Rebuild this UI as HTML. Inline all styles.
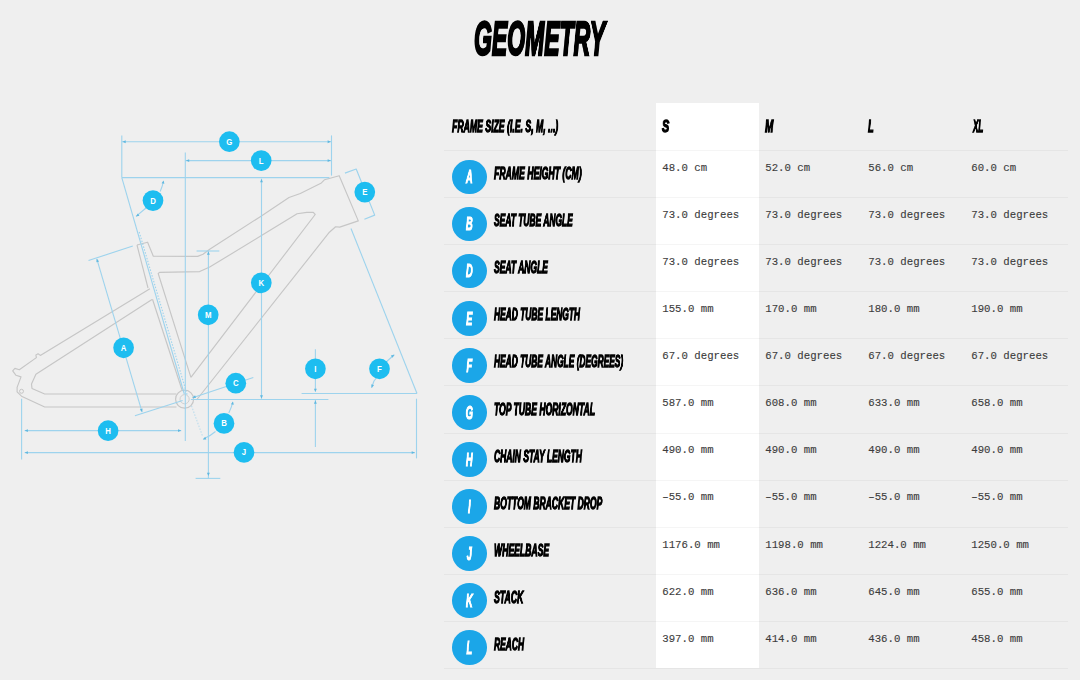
<!DOCTYPE html><html><head><meta charset="utf-8"><style>
*{margin:0;padding:0;box-sizing:border-box}
html,body{width:1080px;height:680px;overflow:hidden;background:#efefef}
body{position:relative;font-family:"Liberation Sans",sans-serif}
.cond{position:absolute;will-change:transform;font-family:"Liberation Sans",sans-serif;font-weight:bold;font-style:italic;color:#000;white-space:nowrap;transform-origin:0 0;line-height:1}
.mono{position:absolute;font-family:"Liberation Mono",monospace;font-size:10.7px;color:#3c3c3c;-webkit-text-stroke:0.12px #3c3c3c;white-space:nowrap;line-height:1}
.line{position:absolute;height:1px;background:rgba(0,0,0,0.04)}
.circ{position:absolute;width:34.6px;height:34.6px;border-radius:50%;background:#1ba6e8}
.scol{position:absolute;left:656px;top:103px;width:103px;height:565px;background:#fff}
</style></head><body>

<div class="scol"></div>
<div class="cond" id="title" style="left:473.92px;top:15.11px;font-size:47.27px;transform:scaleX(0.4862);-webkit-text-stroke:2.6px #000;color:#000">GEOMETRY</div>
<div class="cond" id="hdr" style="left:452.00px;top:118.10px;font-size:17.01px;transform:scaleX(0.5114);-webkit-text-stroke:1.3px #000;color:#000">FRAME SIZE (I.E. S, M, ...)</div>
<div class="cond" id="sz0" style="left:662.43px;top:118.10px;font-size:17.01px;transform:scaleX(0.6444);-webkit-text-stroke:1.3px #000;color:#000">S</div>
<div class="cond" id="sz1" style="left:765.41px;top:118.10px;font-size:17.01px;transform:scaleX(0.5876);-webkit-text-stroke:1.3px #000;color:#000">M</div>
<div class="cond" id="sz2" style="left:868.19px;top:118.10px;font-size:17.01px;transform:scaleX(0.5448);-webkit-text-stroke:1.3px #000;color:#000">L</div>
<div class="cond" id="sz3" style="left:972.52px;top:118.10px;font-size:17.01px;transform:scaleX(0.4703);-webkit-text-stroke:1.3px #000;color:#000">XL</div>
<div class="cond" id="lab0" style="left:493.65px;top:166.15px;font-size:16.61px;transform:scaleX(0.5219);-webkit-text-stroke:1.3px #000;color:#000">FRAME HEIGHT (CM)</div>
<div class="cond" id="lab1" style="left:493.66px;top:213.23px;font-size:16.61px;transform:scaleX(0.5079);-webkit-text-stroke:1.3px #000;color:#000">SEAT TUBE ANGLE</div>
<div class="cond" id="lab2" style="left:493.64px;top:260.31px;font-size:16.61px;transform:scaleX(0.5126);-webkit-text-stroke:1.3px #000;color:#000">SEAT ANGLE</div>
<div class="cond" id="lab3" style="left:493.67px;top:307.39px;font-size:16.61px;transform:scaleX(0.5066);-webkit-text-stroke:1.3px #000;color:#000">HEAD TUBE LENGTH</div>
<div class="cond" id="lab4" style="left:493.68px;top:354.47px;font-size:16.61px;transform:scaleX(0.5048);-webkit-text-stroke:1.3px #000;color:#000">HEAD TUBE ANGLE (DEGREES)</div>
<div class="cond" id="lab5" style="left:493.82px;top:401.55px;font-size:16.61px;transform:scaleX(0.5168);-webkit-text-stroke:1.3px #000;color:#000">TOP TUBE HORIZONTAL</div>
<div class="cond" id="lab6" style="left:493.64px;top:448.63px;font-size:16.61px;transform:scaleX(0.5120);-webkit-text-stroke:1.3px #000;color:#000">CHAIN STAY LENGTH</div>
<div class="cond" id="lab7" style="left:493.66px;top:495.71px;font-size:16.61px;transform:scaleX(0.5154);-webkit-text-stroke:1.3px #000;color:#000">BOTTOM BRACKET DROP</div>
<div class="cond" id="lab8" style="left:493.80px;top:542.79px;font-size:16.61px;transform:scaleX(0.5196);-webkit-text-stroke:1.3px #000;color:#000">WHEELBASE</div>
<div class="cond" id="lab9" style="left:493.64px;top:589.87px;font-size:16.61px;transform:scaleX(0.5244);-webkit-text-stroke:1.3px #000;color:#000">STACK</div>
<div class="cond" id="lab10" style="left:493.68px;top:636.95px;font-size:16.61px;transform:scaleX(0.5095);-webkit-text-stroke:1.3px #000;color:#000">REACH</div>
<div class="line" style="left:444px;top:150.08px;width:624px"></div>
<div class="circ" style="left:452.2px;top:159.68px"></div>
<div class="cond" style="left:452.2px;width:34.6px;text-align:center;transform-origin:50% 0;top:168.29px;font-size:18.90px;color:#fff;-webkit-text-stroke:1.1px #fff;transform:scaleX(0.5)">A</div>
<div class="mono" style="left:662.3px;top:162.88px">48.0 cm</div>
<div class="mono" style="left:765.3px;top:162.88px">52.0 cm</div>
<div class="mono" style="left:868.3px;top:162.88px">56.0 cm</div>
<div class="mono" style="left:971.3px;top:162.88px">60.0 cm</div>
<div class="line" style="left:444px;top:197.16px;width:624px"></div>
<div class="circ" style="left:452.2px;top:206.76px"></div>
<div class="cond" style="left:452.2px;width:34.6px;text-align:center;transform-origin:50% 0;top:215.37px;font-size:18.90px;color:#fff;-webkit-text-stroke:1.1px #fff;transform:scaleX(0.5)">B</div>
<div class="mono" style="left:662.3px;top:209.96px">73.0 degrees</div>
<div class="mono" style="left:765.3px;top:209.96px">73.0 degrees</div>
<div class="mono" style="left:868.3px;top:209.96px">73.0 degrees</div>
<div class="mono" style="left:971.3px;top:209.96px">73.0 degrees</div>
<div class="line" style="left:444px;top:244.24px;width:624px"></div>
<div class="circ" style="left:452.2px;top:253.84px"></div>
<div class="cond" style="left:452.2px;width:34.6px;text-align:center;transform-origin:50% 0;top:262.45px;font-size:18.90px;color:#fff;-webkit-text-stroke:1.1px #fff;transform:scaleX(0.5)">D</div>
<div class="mono" style="left:662.3px;top:257.04px">73.0 degrees</div>
<div class="mono" style="left:765.3px;top:257.04px">73.0 degrees</div>
<div class="mono" style="left:868.3px;top:257.04px">73.0 degrees</div>
<div class="mono" style="left:971.3px;top:257.04px">73.0 degrees</div>
<div class="line" style="left:444px;top:291.32px;width:624px"></div>
<div class="circ" style="left:452.2px;top:300.92px"></div>
<div class="cond" style="left:452.2px;width:34.6px;text-align:center;transform-origin:50% 0;top:309.53px;font-size:18.90px;color:#fff;-webkit-text-stroke:1.1px #fff;transform:scaleX(0.5)">E</div>
<div class="mono" style="left:662.3px;top:304.12px">155.0 mm</div>
<div class="mono" style="left:765.3px;top:304.12px">170.0 mm</div>
<div class="mono" style="left:868.3px;top:304.12px">180.0 mm</div>
<div class="mono" style="left:971.3px;top:304.12px">190.0 mm</div>
<div class="line" style="left:444px;top:338.40px;width:624px"></div>
<div class="circ" style="left:452.2px;top:348.00px"></div>
<div class="cond" style="left:452.2px;width:34.6px;text-align:center;transform-origin:50% 0;top:356.61px;font-size:18.90px;color:#fff;-webkit-text-stroke:1.1px #fff;transform:scaleX(0.5)">F</div>
<div class="mono" style="left:662.3px;top:351.20px">67.0 degrees</div>
<div class="mono" style="left:765.3px;top:351.20px">67.0 degrees</div>
<div class="mono" style="left:868.3px;top:351.20px">67.0 degrees</div>
<div class="mono" style="left:971.3px;top:351.20px">67.0 degrees</div>
<div class="line" style="left:444px;top:385.48px;width:624px"></div>
<div class="circ" style="left:452.2px;top:395.08px"></div>
<div class="cond" style="left:452.2px;width:34.6px;text-align:center;transform-origin:50% 0;top:403.69px;font-size:18.90px;color:#fff;-webkit-text-stroke:1.1px #fff;transform:scaleX(0.5)">G</div>
<div class="mono" style="left:662.3px;top:398.28px">587.0 mm</div>
<div class="mono" style="left:765.3px;top:398.28px">608.0 mm</div>
<div class="mono" style="left:868.3px;top:398.28px">633.0 mm</div>
<div class="mono" style="left:971.3px;top:398.28px">658.0 mm</div>
<div class="line" style="left:444px;top:432.56px;width:624px"></div>
<div class="circ" style="left:452.2px;top:442.16px"></div>
<div class="cond" style="left:452.2px;width:34.6px;text-align:center;transform-origin:50% 0;top:450.77px;font-size:18.90px;color:#fff;-webkit-text-stroke:1.1px #fff;transform:scaleX(0.5)">H</div>
<div class="mono" style="left:662.3px;top:445.36px">490.0 mm</div>
<div class="mono" style="left:765.3px;top:445.36px">490.0 mm</div>
<div class="mono" style="left:868.3px;top:445.36px">490.0 mm</div>
<div class="mono" style="left:971.3px;top:445.36px">490.0 mm</div>
<div class="line" style="left:444px;top:479.64px;width:624px"></div>
<div class="circ" style="left:452.2px;top:489.24px"></div>
<div class="cond" style="left:452.2px;width:34.6px;text-align:center;transform-origin:50% 0;top:497.85px;font-size:18.90px;color:#fff;-webkit-text-stroke:1.1px #fff;transform:scaleX(0.5)">I</div>
<div class="mono" style="left:662.3px;top:492.44px">–55.0 mm</div>
<div class="mono" style="left:765.3px;top:492.44px">–55.0 mm</div>
<div class="mono" style="left:868.3px;top:492.44px">–55.0 mm</div>
<div class="mono" style="left:971.3px;top:492.44px">–55.0 mm</div>
<div class="line" style="left:444px;top:526.72px;width:624px"></div>
<div class="circ" style="left:452.2px;top:536.32px"></div>
<div class="cond" style="left:452.2px;width:34.6px;text-align:center;transform-origin:50% 0;top:544.93px;font-size:18.90px;color:#fff;-webkit-text-stroke:1.1px #fff;transform:scaleX(0.5)">J</div>
<div class="mono" style="left:662.3px;top:539.52px">1176.0 mm</div>
<div class="mono" style="left:765.3px;top:539.52px">1198.0 mm</div>
<div class="mono" style="left:868.3px;top:539.52px">1224.0 mm</div>
<div class="mono" style="left:971.3px;top:539.52px">1250.0 mm</div>
<div class="line" style="left:444px;top:573.80px;width:624px"></div>
<div class="circ" style="left:452.2px;top:583.40px"></div>
<div class="cond" style="left:452.2px;width:34.6px;text-align:center;transform-origin:50% 0;top:592.01px;font-size:18.90px;color:#fff;-webkit-text-stroke:1.1px #fff;transform:scaleX(0.5)">K</div>
<div class="mono" style="left:662.3px;top:586.60px">622.0 mm</div>
<div class="mono" style="left:765.3px;top:586.60px">636.0 mm</div>
<div class="mono" style="left:868.3px;top:586.60px">645.0 mm</div>
<div class="mono" style="left:971.3px;top:586.60px">655.0 mm</div>
<div class="line" style="left:444px;top:620.88px;width:624px"></div>
<div class="circ" style="left:452.2px;top:630.48px"></div>
<div class="cond" style="left:452.2px;width:34.6px;text-align:center;transform-origin:50% 0;top:639.09px;font-size:18.90px;color:#fff;-webkit-text-stroke:1.1px #fff;transform:scaleX(0.5)">L</div>
<div class="mono" style="left:662.3px;top:633.68px">397.0 mm</div>
<div class="mono" style="left:765.3px;top:633.68px">414.0 mm</div>
<div class="mono" style="left:868.3px;top:633.68px">436.0 mm</div>
<div class="mono" style="left:971.3px;top:633.68px">458.0 mm</div>
<div class="line" style="left:444px;top:667.96px;width:624px"></div>
<svg style="position:absolute;left:0;top:0" width="440" height="500" viewBox="0 0 440 500"><path d="M149.9,288.7 L40.3,355.4 L38.1,353.8 L35.9,354.9 L36.4,357.6 L19.3,369.8 L14.9,368.4 L12.7,370.9 L16,375.3 L21,376.9 L17.1,387.4 L17.1,391.8 L21.5,396.2 L44.7,407 L176.5,407" fill="none" stroke="#c6c6c6" stroke-width="1.15" stroke-linejoin="round"/>
<path d="M137,245 L148,288" fill="none" stroke="#c6c6c6" stroke-width="1.15" stroke-linejoin="round"/>
<path d="M137,245 L147.6,242.2 L153.3,256.2 L197.7,256.4 L203,254.3 L209.7,249.3 L259.9,216.9 L289,197.5 L300.3,193.5 L321.4,182.9 L324.6,179.7 L339.2,175.7 L358.3,220.9 L339.7,227.1 L335.6,226.8 L329.4,232.2 L196.5,400" fill="none" stroke="#c6c6c6" stroke-width="1.15" stroke-linejoin="round"/>
<path d="M152,299.6 L35.9,374.2 L31.5,384.1 L32,388.5 L44.7,394 L176.5,394" fill="none" stroke="#c6c6c6" stroke-width="1.15" stroke-linejoin="round"/>
<path d="M152.5,299.3 L182,390" fill="none" stroke="#c6c6c6" stroke-width="1.15" stroke-linejoin="round"/>
<path d="M190.9,377.3 L158.2,273.5 L159.6,272.4 L199.7,271.6 L209.7,267.1 L261.5,235.5 L297.1,213.7 L306.8,212.4 L313.3,212.4 L315.2,214.5 L190.9,377.3" fill="none" stroke="#c6c6c6" stroke-width="1.15" stroke-linejoin="round"/>
<circle cx="21.5" cy="391.3" r="2" fill="none" stroke="#c6c6c6" stroke-width="1"/>
<circle cx="184.6" cy="399.2" r="9" fill="none" stroke="#c6c6c6" stroke-width="1.2"/>
<circle cx="184.6" cy="399.2" r="4.6" fill="none" stroke="#d0d0d0" stroke-width="1"/>
<line x1="121.8" y1="141.7" x2="331.5" y2="141.7" stroke="#9dd3ed" stroke-width="1.1" opacity="1"/>
<path d="M122.50,141.70 L125.70,140.26 L125.70,143.14 Z" fill="#5fb8e0"/>
<path d="M330.80,141.70 L327.60,143.14 L327.60,140.26 Z" fill="#5fb8e0"/>
<line x1="121.8" y1="135.4" x2="121.8" y2="177.6" stroke="#9dd3ed" stroke-width="1.1" opacity="1"/>
<line x1="331.5" y1="135.4" x2="331.5" y2="175.6" stroke="#9dd3ed" stroke-width="1.1" opacity="1"/>
<line x1="185.3" y1="160.6" x2="331.5" y2="160.6" stroke="#9dd3ed" stroke-width="1.1" opacity="1"/>
<path d="M186.00,160.60 L189.20,159.16 L189.20,162.04 Z" fill="#5fb8e0"/>
<path d="M330.80,160.60 L327.60,162.04 L327.60,159.16 Z" fill="#5fb8e0"/>
<line x1="185.3" y1="152.5" x2="185.3" y2="440.9" stroke="#9dd3ed" stroke-width="1.1" opacity="1"/>
<line x1="121.8" y1="177.6" x2="329.4" y2="177.6" stroke="#9dd3ed" stroke-width="1.1" opacity="1"/>
<line x1="121.8" y1="177.6" x2="184.3" y2="394" stroke="#9dd3ed" stroke-width="1.1" opacity="1"/>
<line x1="139.2" y1="232" x2="187.2" y2="395" stroke="#9dd3ed" stroke-width="1.1" stroke-dasharray="1.5,1.5" opacity="1"/>
<line x1="96.8" y1="258.8" x2="142.1" y2="412.1" stroke="#9dd3ed" stroke-width="1.1" opacity="1"/>
<path d="M96.80,258.80 L99.09,261.46 L96.32,262.28 Z" fill="#5fb8e0"/>
<path d="M142.10,412.10 L139.81,409.44 L142.58,408.62 Z" fill="#5fb8e0"/>
<line x1="88.5" y1="260.5" x2="132.8" y2="246.1" stroke="#9dd3ed" stroke-width="1.1" opacity="1"/>
<line x1="134.9" y1="415.8" x2="182.6" y2="400.4" stroke="#9dd3ed" stroke-width="1.1" opacity="1"/>
<line x1="24.7" y1="430.6" x2="181.2" y2="430.6" stroke="#9dd3ed" stroke-width="1.1" opacity="1"/>
<path d="M24.70,430.60 L27.90,429.16 L27.90,432.04 Z" fill="#5fb8e0"/>
<path d="M181.20,430.60 L178.00,432.04 L178.00,429.16 Z" fill="#5fb8e0"/>
<line x1="24.7" y1="452.6" x2="414.9" y2="452.6" stroke="#9dd3ed" stroke-width="1.1" opacity="1"/>
<path d="M24.70,452.60 L27.90,451.16 L27.90,454.04 Z" fill="#5fb8e0"/>
<path d="M414.90,452.60 L411.70,454.04 L411.70,451.16 Z" fill="#5fb8e0"/>
<line x1="21.6" y1="398.7" x2="21.6" y2="459.4" stroke="#9dd3ed" stroke-width="1.1" opacity="1"/>
<line x1="416.5" y1="398.7" x2="416.5" y2="458.4" stroke="#9dd3ed" stroke-width="1.1" opacity="1"/>
<line x1="208.4" y1="251" x2="208.4" y2="478.4" stroke="#9dd3ed" stroke-width="1.1" opacity="1"/>
<path d="M208.40,251.50 L209.84,254.70 L206.96,254.70 Z" fill="#5fb8e0"/>
<path d="M208.40,476.00 L206.96,472.80 L209.84,472.80 Z" fill="#5fb8e0"/>
<line x1="196.6" y1="251" x2="219.3" y2="251" stroke="#9dd3ed" stroke-width="1.1" opacity="1"/>
<line x1="195.6" y1="478.4" x2="220.3" y2="478.4" stroke="#9dd3ed" stroke-width="1.1" opacity="1"/>
<line x1="261.5" y1="178.7" x2="261.5" y2="398.7" stroke="#9dd3ed" stroke-width="1.1" opacity="1"/>
<path d="M261.50,179.00 L262.94,182.20 L260.06,182.20 Z" fill="#5fb8e0"/>
<path d="M261.50,398.50 L260.06,395.30 L262.94,395.30 Z" fill="#5fb8e0"/>
<line x1="315.4" y1="349.3" x2="315.4" y2="391.5" stroke="#9dd3ed" stroke-width="1.1" opacity="1"/>
<path d="M315.40,392.00 L313.96,388.80 L316.84,388.80 Z" fill="#5fb8e0"/>
<line x1="315.4" y1="399.7" x2="315.4" y2="447.1" stroke="#9dd3ed" stroke-width="1.1" opacity="1"/>
<path d="M315.40,400.50 L316.84,403.70 L313.96,403.70 Z" fill="#5fb8e0"/>
<line x1="301.6" y1="393.5" x2="417" y2="393.5" stroke="#9dd3ed" stroke-width="1.1" opacity="1"/>
<line x1="190.9" y1="399.5" x2="328.4" y2="399.5" stroke="#9dd3ed" stroke-width="1.1" opacity="1"/>
<line x1="351" y1="228.5" x2="417" y2="393.5" stroke="#9dd3ed" stroke-width="1.1" opacity="1"/>
<path d="M371.6,387.8 L374,381 L379.5,374" fill="none" stroke="#9dd3ed" stroke-width="1.15" stroke-linejoin="round"/>
<path d="M371.60,387.80 L371.30,384.30 L374.02,385.26 Z" fill="#5fb8e0"/>
<path d="M385,363 L394.3,354.8" fill="none" stroke="#9dd3ed" stroke-width="1.15" stroke-linejoin="round"/>
<path d="M394.30,354.80 L392.50,357.81 L390.85,355.46 Z" fill="#5fb8e0"/>
<path d="M344.9,173.1 L356.2,169 L374.7,215.1 L364.4,219.3" fill="none" stroke="#9dd3ed" stroke-width="1.15" stroke-linejoin="round"/>
<path d="M160.2,191.5 Q162.4,186.5 163.4,181.5" fill="none" stroke="#9dd3ed" stroke-width="1.1"/>
<path d="M163.60,180.40 L164.38,183.82 L161.56,183.26 Z" fill="#5fb8e0"/>
<path d="M146,208 L136,216.4" fill="none" stroke="#9dd3ed" stroke-width="1.15" stroke-linejoin="round"/>
<path d="M136.00,216.40 L137.80,213.39 L139.45,215.74 Z" fill="#5fb8e0"/>
<line x1="253.3" y1="377.5" x2="192.5" y2="397.7" stroke="#9dd3ed" stroke-width="1.1" opacity="1"/>
<path d="M192.50,397.70 L195.09,395.33 L195.99,398.06 Z" fill="#5fb8e0"/>
<path d="M228.8,413 Q231.8,407 232.7,402.2" fill="none" stroke="#9dd3ed" stroke-width="1.1"/>
<path d="M232.90,401.40 L233.85,404.78 L231.00,404.35 Z" fill="#5fb8e0"/>
<path d="M215.5,431.5 Q209.4,436.6 203.5,439.1" fill="none" stroke="#9dd3ed" stroke-width="1.1"/>
<path d="M202.80,439.40 L205.24,436.87 L206.31,439.55 Z" fill="#5fb8e0"/>
<line x1="191.5" y1="405.9" x2="202.8" y2="436.8" stroke="#9dd3ed" stroke-width="1.1" stroke-dasharray="1.5,1.5" opacity="0.6"/>
<circle cx="229.35" cy="141.7" r="10.35" fill="#1dbdf0"/>
<text transform="translate(229.35,144.6) scale(0.85,1)" x="0" y="0" text-anchor="middle" font-family="Liberation Sans" font-weight="bold" font-size="9.2" fill="#fff">G</text>
<circle cx="261.2" cy="160.6" r="10.35" fill="#1dbdf0"/>
<text transform="translate(261.2,163.5) scale(0.85,1)" x="0" y="0" text-anchor="middle" font-family="Liberation Sans" font-weight="bold" font-size="9.2" fill="#fff">L</text>
<circle cx="153" cy="200.6" r="10.35" fill="#1dbdf0"/>
<text transform="translate(153,203.5) scale(0.85,1)" x="0" y="0" text-anchor="middle" font-family="Liberation Sans" font-weight="bold" font-size="9.2" fill="#fff">D</text>
<circle cx="364.8" cy="192.1" r="10.35" fill="#1dbdf0"/>
<text transform="translate(364.8,195.0) scale(0.85,1)" x="0" y="0" text-anchor="middle" font-family="Liberation Sans" font-weight="bold" font-size="9.2" fill="#fff">E</text>
<circle cx="261.3" cy="282.8" r="10.35" fill="#1dbdf0"/>
<text transform="translate(261.3,285.7) scale(0.85,1)" x="0" y="0" text-anchor="middle" font-family="Liberation Sans" font-weight="bold" font-size="9.2" fill="#fff">K</text>
<circle cx="208.2" cy="314.8" r="10.35" fill="#1dbdf0"/>
<text transform="translate(208.2,317.7) scale(0.85,1)" x="0" y="0" text-anchor="middle" font-family="Liberation Sans" font-weight="bold" font-size="9.2" fill="#fff">M</text>
<circle cx="123.6" cy="347.8" r="10.35" fill="#1dbdf0"/>
<text transform="translate(123.6,350.7) scale(0.85,1)" x="0" y="0" text-anchor="middle" font-family="Liberation Sans" font-weight="bold" font-size="9.2" fill="#fff">A</text>
<circle cx="235.8" cy="383.2" r="10.35" fill="#1dbdf0"/>
<text transform="translate(235.8,386.09999999999997) scale(0.85,1)" x="0" y="0" text-anchor="middle" font-family="Liberation Sans" font-weight="bold" font-size="9.2" fill="#fff">C</text>
<circle cx="315.4" cy="368.8" r="10.35" fill="#1dbdf0"/>
<text transform="translate(315.4,371.7) scale(0.85,1)" x="0" y="0" text-anchor="middle" font-family="Liberation Sans" font-weight="bold" font-size="9.2" fill="#fff">I</text>
<circle cx="379.5" cy="368.8" r="10.35" fill="#1dbdf0"/>
<text transform="translate(379.5,371.7) scale(0.85,1)" x="0" y="0" text-anchor="middle" font-family="Liberation Sans" font-weight="bold" font-size="9.2" fill="#fff">F</text>
<circle cx="224" cy="423.4" r="10.35" fill="#1dbdf0"/>
<text transform="translate(224,426.29999999999995) scale(0.85,1)" x="0" y="0" text-anchor="middle" font-family="Liberation Sans" font-weight="bold" font-size="9.2" fill="#fff">B</text>
<circle cx="108.1" cy="430.7" r="10.35" fill="#1dbdf0"/>
<text transform="translate(108.1,433.59999999999997) scale(0.85,1)" x="0" y="0" text-anchor="middle" font-family="Liberation Sans" font-weight="bold" font-size="9.2" fill="#fff">H</text>
<circle cx="244" cy="452.4" r="10.35" fill="#1dbdf0"/>
<text transform="translate(244,455.29999999999995) scale(0.85,1)" x="0" y="0" text-anchor="middle" font-family="Liberation Sans" font-weight="bold" font-size="9.2" fill="#fff">J</text></svg>
</body></html>
